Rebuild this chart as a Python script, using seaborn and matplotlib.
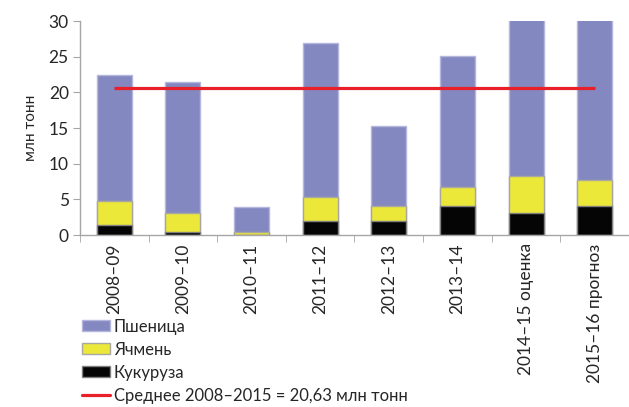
import matplotlib
matplotlib.use("Agg")
import matplotlib.pyplot as plt
import numpy as np
import seaborn as sns
from matplotlib.lines import Line2D
from matplotlib.patches import Patch

# данные (млн тонн)
seasons = ["2008–09", "2009–10", "2010–11", "2011–12", "2012–13",
           "2013–14", "2014–15 оценка", "2015–16 прогноз"]
corn = [1.35, 0.45, 0.05, 1.95, 2.0, 4.1, 3.05, 4.1]
barley = [3.35, 2.65, 0.4, 3.4, 2.1, 2.6, 5.2, 3.55]
wheat = [17.8, 18.3, 3.5, 21.5, 11.2, 18.4, 23.0, 23.5]
avg_total = 20.63

wheat_color = "#8488C0"
barley_color = "#EBE83A"
corn_color = "#050505"
line_color = "#E8202A"

sns.set_style("white")
plt.rcParams['font.family'] = ['Lato', 'DejaVu Sans']

corn_arr = np.array(corn)
barley_top = corn_arr + np.array(barley)
total = barley_top + np.array(wheat)

fig = plt.figure(figsize=(6.29, 4.07), dpi=100)
ax = fig.add_axes([0.127, 0.4226, 0.873, 0.5258])

sns.barplot(x=seasons, y=total, color=wheat_color, width=0.51, saturation=1,
            edgecolor="#B4B6DC", linewidth=1, ax=ax)
sns.barplot(x=seasons, y=barley_top, color=barley_color, width=0.51, saturation=1,
            edgecolor="#A8A8A0", linewidth=1, ax=ax)
sns.barplot(x=seasons, y=corn_arr, color=corn_color, width=0.51, saturation=1,
            edgecolor="#808080", linewidth=1, ax=ax)

ax.plot([0, len(seasons) - 1], [avg_total, avg_total], color=line_color, lw=2.3,
        solid_capstyle="butt", zorder=5)

ax.set_ylim(0, 30)
ax.set_xlim(-0.5, 7.4)
ax.set_yticks([0, 5, 10, 15, 20, 25, 30])
ax.set_ylabel("млн тонн", fontsize=11, labelpad=8)
ax.set_xlabel("")

for side in ["top", "right"]:
    ax.spines[side].set_visible(False)
for side in ["left", "bottom"]:
    ax.spines[side].set_color("#A6A6A6")
    ax.spines[side].set_linewidth(1)

ax.tick_params(axis="y", left=True, length=5, color="#A6A6A6", labelsize=12.5, pad=3)
ax.set_xticks(range(len(seasons)))
ax.set_xticklabels(seasons, rotation=90, fontsize=12.5)
ax.tick_params(axis="x", which="major", length=0, pad=6)
ax.set_xticks(np.arange(-0.5, len(seasons), 1), minor=True)
ax.tick_params(axis="x", which="minor", bottom=True, length=5, color="#A6A6A6")

handles = [
    Patch(facecolor=wheat_color, edgecolor="#B4B6DC", label="Пшеница"),
    Patch(facecolor=barley_color, edgecolor="#A8A8A0", label="Ячмень"),
    Patch(facecolor=corn_color, edgecolor="#808080", label="Кукуруза"),
    Line2D([0], [0], color=line_color, lw=2.3, label="Среднее 2008–2015 = 20,63 млн тонн"),
]
fig.legend(handles=handles, loc="lower left", bbox_to_anchor=(0.12, -0.008),
           frameon=False, fontsize=12, handlelength=1.7, handleheight=0.6,
           handletextpad=0.2, labelspacing=0.42, borderaxespad=0.0)

fig.savefig("out.png", dpi=100)
